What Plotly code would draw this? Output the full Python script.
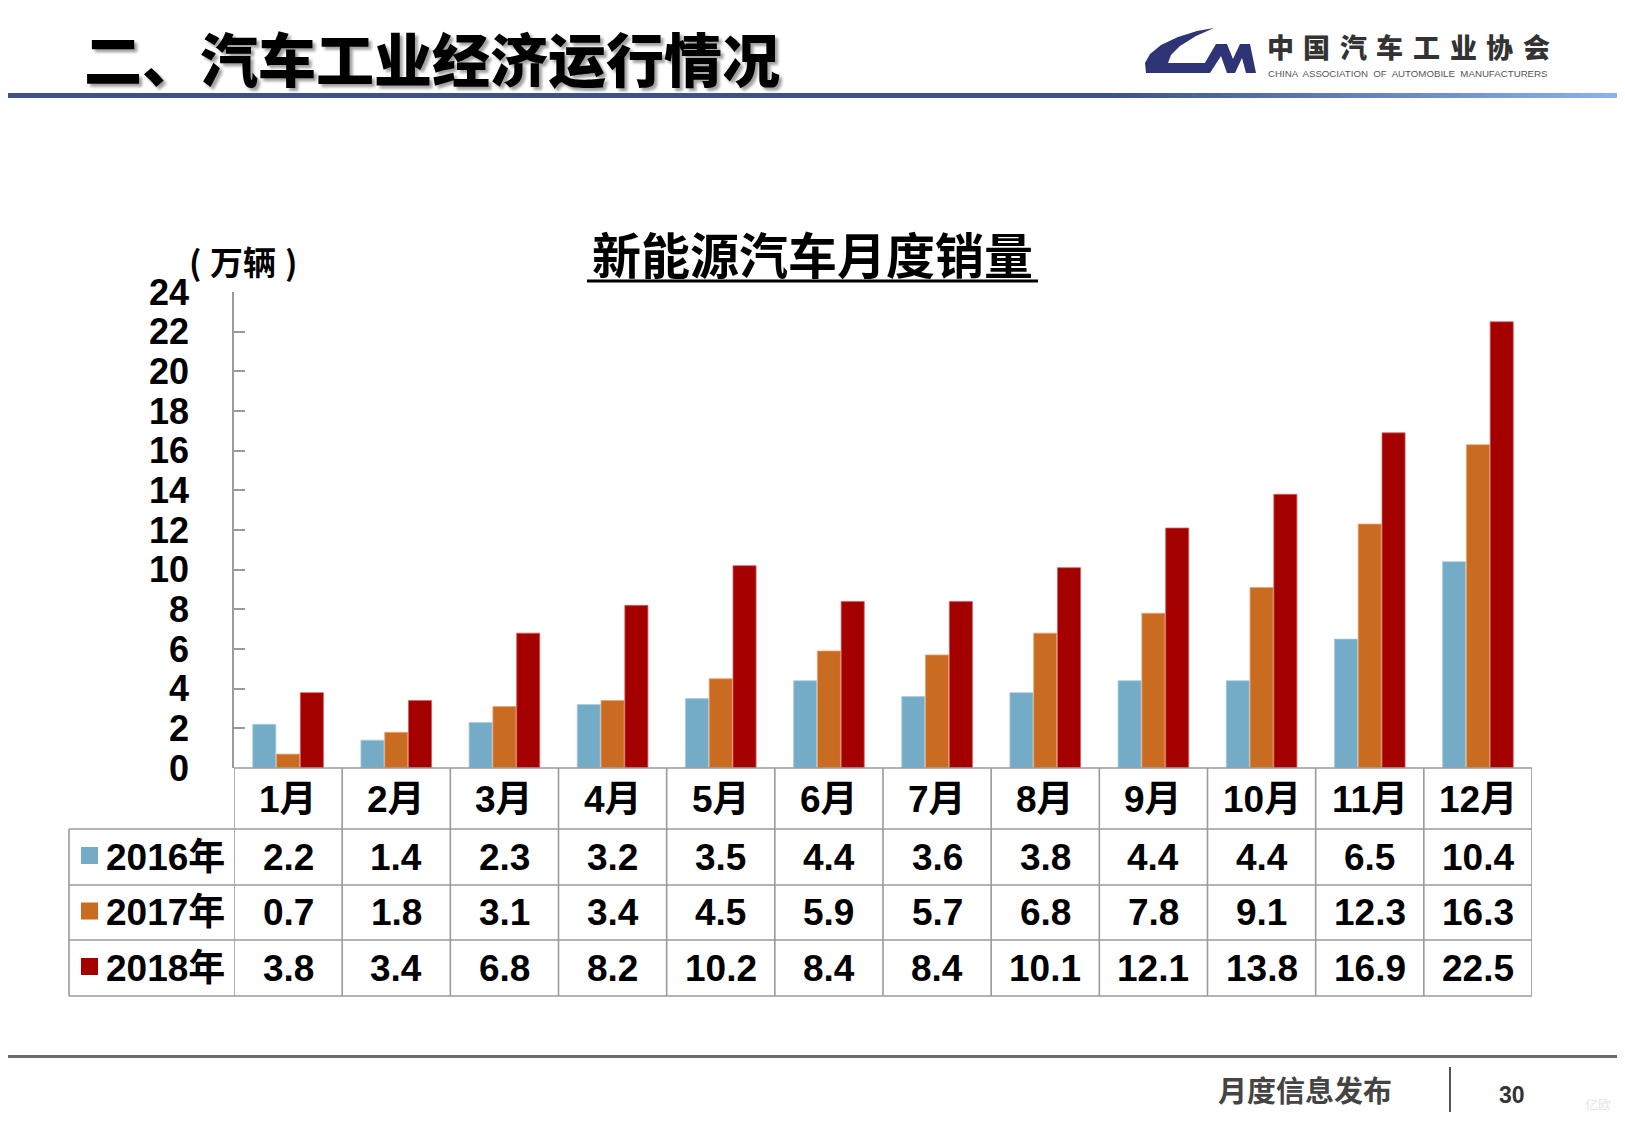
import plotly.graph_objects as go

W, H = 1625, 1125

months = ["1月", "2月", "3月", "4月", "5月", "6月", "7月", "8月", "9月", "10月", "11月", "12月"]
series_names = ["2016年", "2017年", "2018年"]
sales_2016 = [2.2, 1.4, 2.3, 3.2, 3.5, 4.4, 3.6, 3.8, 4.4, 4.4, 6.5, 10.4]
sales_2017 = [0.7, 1.8, 3.1, 3.4, 4.5, 5.9, 5.7, 6.8, 7.8, 9.1, 12.3, 16.3]
sales_2018 = [3.8, 3.4, 6.8, 8.2, 10.2, 8.4, 8.4, 10.1, 12.1, 13.8, 16.9, 22.5]
y_ticks = [0, 2, 4, 6, 8, 10, 12, 14, 16, 18, 20, 22, 24]

colors = ["#74ACC8", "#C96C21", "#A50000"]
edge = ["#A9CDE0", "#E2A370", "#D46060"]
all_series = [sales_2016, sales_2017, sales_2018]

LAT = "Liberation Sans, Arial, Noto Sans CJK SC, sans-serif"
CJK = "Noto Sans CJK SC, sans-serif"

# page body margin compensation
OX, OY = 8, 8


def px(x):
    return (x - OX) / W


def py(y):
    return 1 - (y - OY) / H


X0, X1 = 234, 1532
Y_TOP, Y_ZERO = 292, 768

fig = go.Figure()
for name, vals, c, e in zip(series_names, all_series, colors, edge):
    fig.add_trace(go.Bar(x=months, y=vals, name=name, marker=dict(color=c, line=dict(color=e, width=0.8)),
                         hoverinfo="skip"))

shapes = []
ann = []

# ---- table ----
grid = dict(color="#9A9A9A", width=1.6)
row_lines = [768, 829, 885, 940, 996]
for i, yy in enumerate(row_lines):
    shapes.append(dict(type="line", xref="paper", yref="paper", x0=px(X0 if i == 0 else 69), x1=px(X1),
                       y0=py(yy), y1=py(yy), line=grid))
shapes.append(dict(type="line", xref="paper", yref="paper", x0=px(69), x1=px(69),
                   y0=py(829), y1=py(996), line=grid))
for i in range(len(months) + 1):
    shapes.append(dict(type="line", xref="x", yref="paper", x0=i - 0.5, x1=i - 0.5,
                       y0=py(768), y1=py(996), line=grid))

tfont = dict(family=LAT, size=37, color="#000000", weight="bold")
for m in months:
    ann.append(dict(x=m, y=py(799), xref="x", yref="paper", text=m, showarrow=False, font=tfont,
                    xanchor="center", yanchor="middle"))
row_centers = [857, 912.5, 968]
for name, vals, c, yc in zip(series_names, all_series, colors, row_centers):
    for m, v in zip(months, vals):
        ann.append(dict(x=m, y=py(yc), xref="x", yref="paper", text=f"{v:.1f}", showarrow=False, font=tfont,
                        xanchor="center", yanchor="middle"))
    shapes.append(dict(type="rect", xref="paper", yref="paper", x0=px(81), x1=px(98),
                       y0=py(yc - 10), y1=py(yc + 7), fillcolor=c, line=dict(width=0)))
    ann.append(dict(x=px(104), y=py(yc), xref="paper", yref="paper", text=name, showarrow=False, font=tfont,
                    xanchor="left", yanchor="middle"))

# ---- titles ----
ann.append(dict(x=px(812), y=py(253), xref="paper", yref="paper", text="新能源汽车月度销量", showarrow=False,
                font=dict(family=CJK, size=49, color="#000000", weight="bold"), xanchor="center", yanchor="middle"))
shapes.append(dict(type="line", xref="paper", yref="paper", x0=px(587), x1=px(1038), y0=py(281), y1=py(281),
                   line=dict(color="#000000", width=3)))
ufont = dict(family=CJK, size=33, color="#000000", weight="bold")
ann.append(dict(x=px(203), y=py(261), xref="paper", yref="paper", text="(", showarrow=False, font=ufont,
                xanchor="right", yanchor="middle"))
ann.append(dict(x=px(243), y=py(261), xref="paper", yref="paper", text="万辆", showarrow=False, font=ufont,
                xanchor="center", yanchor="middle"))
ann.append(dict(x=px(283), y=py(261), xref="paper", yref="paper", text=")", showarrow=False, font=ufont,
                xanchor="left", yanchor="middle"))

# ---- header ----
ann.append(dict(x=px(82), y=py(57), xref="paper", yref="paper", text="二、汽车工业经济运行情况", showarrow=False,
                font=dict(family=CJK, size=58, color="#000000", weight=900, shadow="3px 3px 3px #a0a0a0"),
                xanchor="left", yanchor="middle"))
# header rule with gradient
n_seg = 40
start_c = (0x3D, 0x50, 0x8A)
end_c = (0x8C, 0xB6, 0xF0)
shapes.append(dict(type="line", xref="paper", yref="paper", x0=px(0), x1=px(1100), y0=py(95.5), y1=py(95.5),
                   line=dict(color="#3D508A", width=5)))
for k in range(n_seg):
    xa = 1100 + (W + OX - 1100) * k / n_seg
    xb = 1100 + (W + OX - 1100) * (k + 1) / n_seg
    t = (k + 0.5) / n_seg
    col = "#%02X%02X%02X" % tuple(int(a + (b - a) * t) for a, b in zip(start_c, end_c))
    shapes.append(dict(type="line", xref="paper", yref="paper", x0=px(xa), x1=px(xb + 0.5), y0=py(95.5),
                       y1=py(95.5), line=dict(color=col, width=5)))


# logo
def path(points):
    return "M " + " L ".join(f"{px(a):.5f},{py(b):.5f}" for a, b in points) + " Z"


c_pts = [(1214, 28), (1197, 31), (1178, 37), (1161, 45), (1150, 54), (1145, 63), (1146, 73), (1203, 73),
         (1207, 63), (1168, 63), (1171, 55), (1180, 46), (1196, 36)]
m_pts = [(1199, 73), (1216, 44), (1227, 44), (1233, 59), (1240, 44), (1250, 44), (1256, 73), (1246, 73),
         (1242, 58), (1235, 73), (1227, 73), (1221, 56), (1210, 73)]
for pts in (c_pts, m_pts):
    shapes.append(dict(type="path", xref="paper", yref="paper", path=path(pts), fillcolor="#2F3477",
                       line=dict(width=0)))
for i, ch in enumerate("中国汽车工业协会"):
    ann.append(dict(x=px(1280 + 36.6 * i), y=py(46), xref="paper", yref="paper", text=ch, showarrow=False,
                    font=dict(family=CJK, size=27, color="#333333", weight=900), xanchor="center", yanchor="middle"))
ann.append(dict(x=px(1266), y=py(73), xref="paper", yref="paper",
                text="CHINA  ASSOCIATION  OF  AUTOMOBILE  MANUFACTURERS", showarrow=False,
                font=dict(family=LAT, size=9.7, color="#555555"), xanchor="left", yanchor="middle"))

# ---- footer ----
shapes.append(dict(type="line", xref="paper", yref="paper", x0=px(0), x1=px(W + OX), y0=py(1056.5),
                   y1=py(1056.5), line=dict(color="#6A6A6A", width=3)))
shapes.append(dict(type="line", xref="paper", yref="paper", x0=px(1450), x1=px(1450), y0=py(1067), y1=py(1112),
                   line=dict(color="#555555", width=2)))
ann.append(dict(x=px(1305), y=py(1089), xref="paper", yref="paper", text="月度信息发布", showarrow=False,
                font=dict(family=CJK, size=29, color="#444444", weight="bold"), xanchor="center", yanchor="middle"))
ann.append(dict(x=px(1512), y=py(1095), xref="paper", yref="paper", text="30", showarrow=False,
                font=dict(family=LAT, size=23, color="#333333", weight="bold"), xanchor="center", yanchor="middle"))
ann.append(dict(x=px(1598), y=py(1103), xref="paper", yref="paper", text="亿欧", showarrow=False,
                font=dict(family=CJK, size=13, color="#E6E6E6"), xanchor="center", yanchor="middle"))

fig.update_layout(
    width=W, height=H, autosize=False,
    margin=dict(l=0, r=0, t=0, b=0, pad=0, autoexpand=False),
    paper_bgcolor="white", plot_bgcolor="white",
    barmode="group", bargap=0.34, bargroupgap=0.03,
    showlegend=False,
    xaxis=dict(domain=[px(X0), px(X1)], range=[-0.5, 11.5], showticklabels=False, ticks="",
               showgrid=False, zeroline=False, showline=False, fixedrange=True, automargin=False),
    yaxis=dict(domain=[py(Y_ZERO), py(Y_TOP)], range=[0, 24], tickvals=y_ticks, ticks="inside", ticklen=11,
               tickcolor="#9A9A9A", tickwidth=1.6, showline=True, linecolor="#9A9A9A", linewidth=1.6,
               showgrid=False, zeroline=False, ticklabelstandoff=36, automargin=False,
               tickfont=dict(family=LAT, size=36, color="#000000", weight="bold"), fixedrange=True),
    shapes=shapes, annotations=ann,
)

fig.write_html("out.html", config={"displayModeBar": False})
